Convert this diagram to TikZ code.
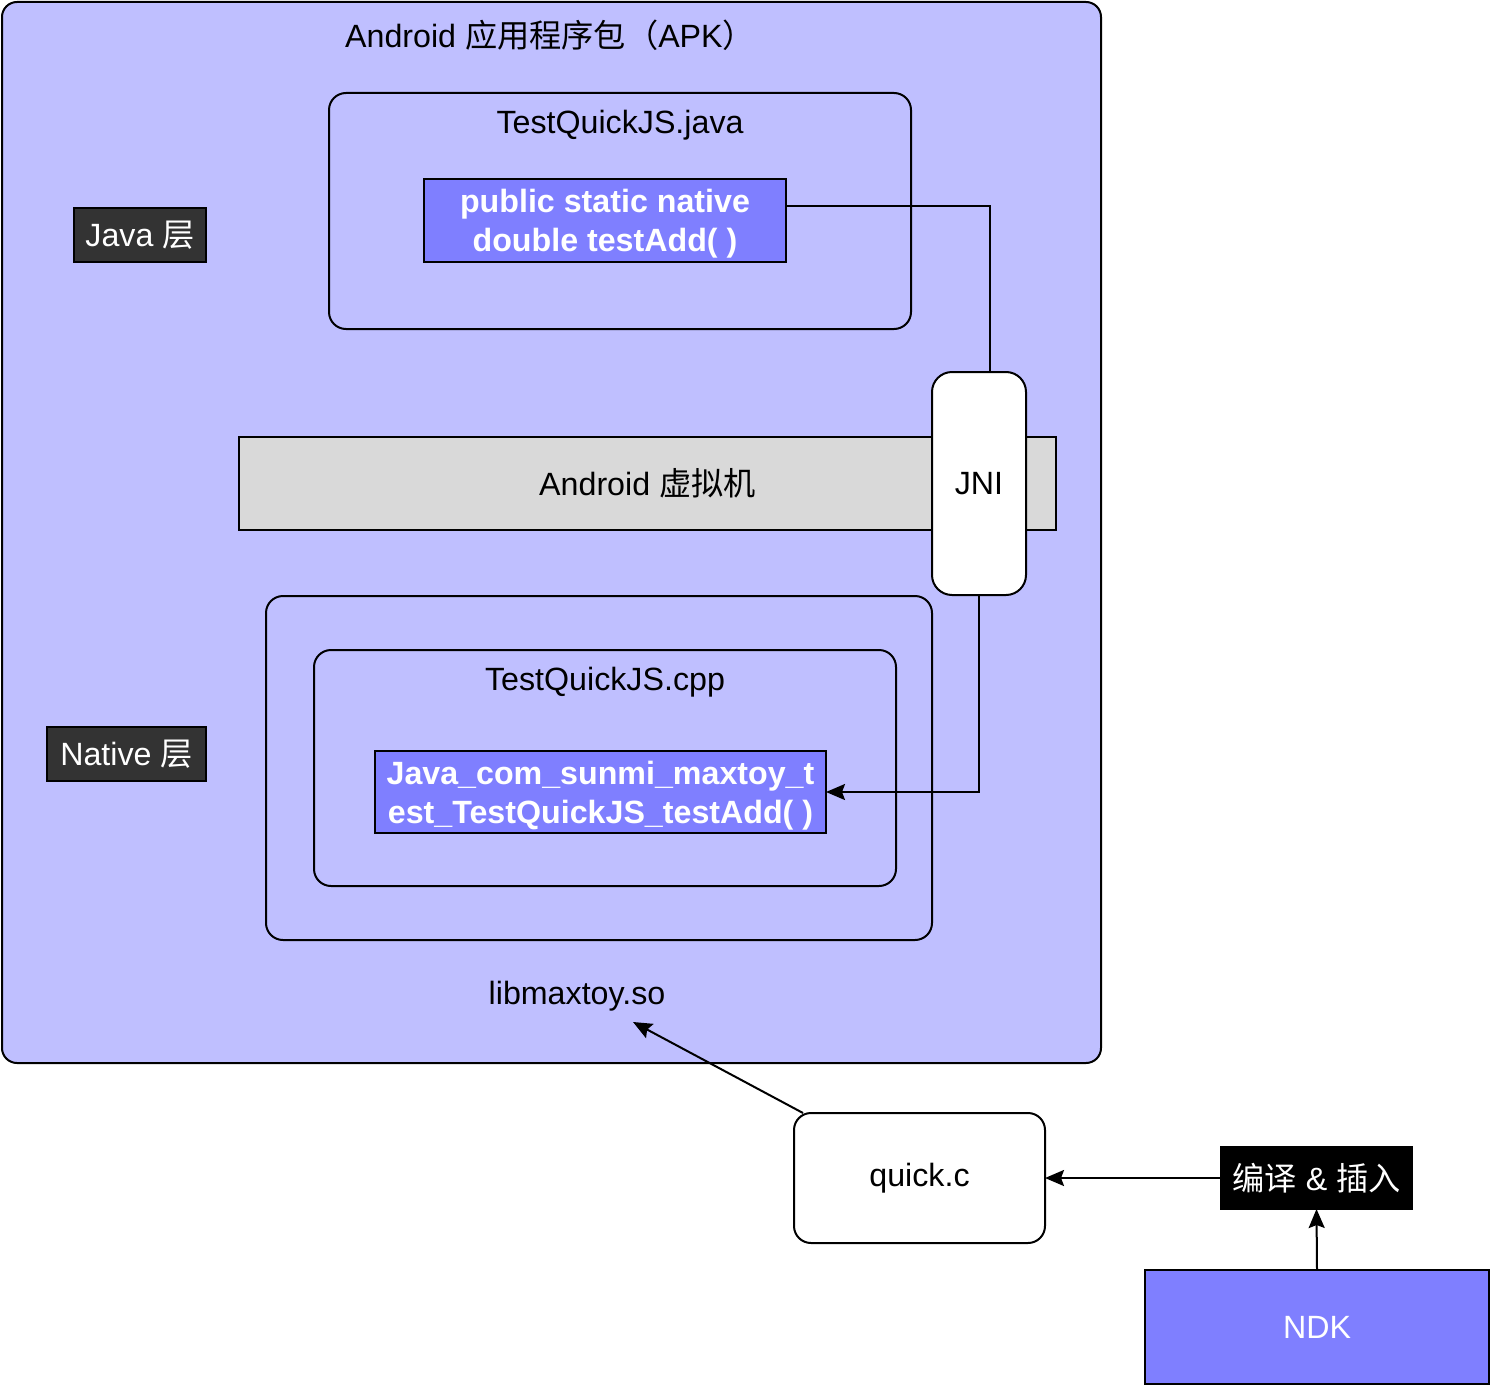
\documentclass[tikz,border=0pt]{standalone}
\usepackage{fontspec}
\setmainfont{Liberation Sans}
\newfontfamily\cjk{Noto Sans CJK SC}
\usetikzlibrary{arrows.meta,calc}
\definecolor{apk}{HTML}{BFBFFF}
\definecolor{fnc}{HTML}{7F7FFF}
\definecolor{vmgray}{HTML}{D9D9D9}
\definecolor{darkbox}{HTML}{333333}
\begin{document}
\begin{tikzpicture}[x=1pt,y=-1pt,line width=2pt,
  box/.style={draw, inner sep=0pt, outer sep=0pt},
  big/.style={font=\fontsize{32.2}{39}\selectfont},
  txt/.style={big, inner sep=0pt},
  fnbox/.style={box, fill=fnc, text=white, align=center, text depth=0pt, font=\fontsize{32.2}{39}\bfseries\selectfont},
  layerbox/.style={box, big, fill=darkbox, text=white},
  arr/.style={-{Stealth[length=19pt,width=16pt,inset=3pt]}}
]
\useasboundingbox (0,0) rectangle (1490,1386);
% APK container
\node[box, rounded corners=15pt, fill=apk, minimum width=1099pt, minimum height=1061pt] (apk) at (551.5,532.5) {};
\node[txt] (apktitle) at (550,35) {Android {\cjk 应用程序包（}APK{\cjk ）}};
% Java file
\node[box, rounded corners=17pt, fill=apk, minimum width=582pt, minimum height=236pt] (javafile) at (620,211) {};
\node[txt] (javatitle) at (620,125) {TestQuickJS.java};
\node[fnbox, minimum width=362pt, minimum height=83pt] (jfn) at (605,220.5) {public static native\\double testAdd( )};
\node[layerbox, minimum width=132pt, minimum height=54pt] (javalayer) at (140,235) {Java {\cjk 层}};
% VM
\node[box, big, fill=vmgray, minimum width=817pt, minimum height=93pt] (vm) at (647.5,483.5) {Android {\cjk 虚拟机}};
% Native
\node[box, rounded corners=17pt, fill=apk, minimum width=666pt, minimum height=344pt] (lib) at (599,768) {};
\node[box, rounded corners=17pt, fill=apk, minimum width=582pt, minimum height=236pt] (cpp) at (605,768) {};
\node[txt] (cpptitle) at (605,682) {TestQuickJS.cpp};
\node[fnbox, minimum width=451pt, minimum height=82pt] (cfn) at (600.5,792) {Java\_com\_sunmi\_maxtoy\_t\\est\_TestQuickJS\_testAdd( )};
\node[layerbox, minimum width=159pt, minimum height=54pt] (nativelayer) at (126.5,754) {Native {\cjk 层}};
\node[txt] (libtext) at (577,996) {libmaxtoy.so};
% JNI
\coordinate (j1) at (990,206);
\draw (jfn.east |- j1) -- (j1) -- (j1 |- 0,372);
\node[box, big, rounded corners=20pt, fill=white, minimum width=94pt, minimum height=223pt] (jni) at (979,483.5) {JNI};
\draw[arr] (jni.south) |- (cfn.east);
% Build chain
\node[box, big, rounded corners=17pt, fill=white, minimum width=251pt, minimum height=130pt] (quick) at (919.5,1178) {quick.c};
\node[box, big, fill=black, text=white, minimum width=191pt, minimum height=62pt] (compile) at (1316.5,1178) {{\cjk 编译} \& {\cjk 插入}};
\node[box, big, fill=fnc, text=white, minimum width=344pt, minimum height=114pt] (ndk) at (1317,1327) {NDK};
\coordinate (libtip) at (633,1022);
\draw[arr] ($(quick.north west)+(9,0)$) -- (libtip);
\draw[arr] (compile.west) -- (quick.east);
\draw[arr] (ndk.north) -- (compile.south);
\end{tikzpicture}
\end{document}
